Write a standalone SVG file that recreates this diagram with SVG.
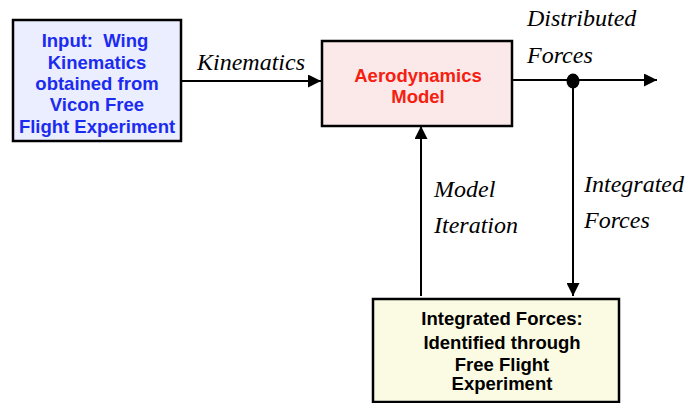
<svg xmlns="http://www.w3.org/2000/svg" width="689" height="403" viewBox="0 0 689 403">
<defs>
<style>
.box{stroke:#000;stroke-width:2.5}
.bt{font-family:"Liberation Sans",Arial,sans-serif;font-weight:bold;font-size:18.5px;text-anchor:middle}
.lbl{font-family:"Liberation Serif","Times New Roman",serif;font-style:italic;font-size:24px;fill:#000}
.ln{stroke:#000;stroke-width:2;fill:none}
</style>
<marker id="ah" viewBox="0 0 10 10" refX="10" refY="5" markerWidth="6.5" markerHeight="6.5" orient="auto" markerUnits="strokeWidth">
<path d="M0,0 L10,5 L0,10 Z" fill="#000"/>
</marker>
</defs>
<rect width="689" height="403" fill="#fff"/>
<g id="connectors">
<line class="ln" x1="181" y1="81" x2="321" y2="81" marker-end="url(#ah)"/>
<line class="ln" x1="512" y1="80" x2="657" y2="80" marker-end="url(#ah)"/>
<line class="ln" x1="573" y1="80" x2="573" y2="296" marker-end="url(#ah)"/>
<line class="ln" x1="421" y1="296" x2="421" y2="126" marker-end="url(#ah)"/>
<ellipse cx="573" cy="81" rx="6.5" ry="7.5" fill="#000"/>
<text class="lbl" x="197" y="70">Kinematics</text>
<text class="lbl" x="527" y="26">Distributed</text>
<text class="lbl" x="527" y="63">Forces</text>
<text class="lbl" x="434" y="197">Model</text>
<text class="lbl" x="434" y="233">Iteration</text>
<text class="lbl" x="584" y="192">Integrated</text>
<text class="lbl" x="584" y="228">Forces</text>
</g>
<g id="input">
<rect class="box" x="13" y="20" width="168" height="121" fill="#ebeeff"/>
<text class="bt" fill="#1c2bf0" x="95" y="47">Input:&#160; Wing</text>
<text class="bt" fill="#1c2bf0" x="97" y="68.5">Kinematics</text>
<text class="bt" fill="#1c2bf0" x="97" y="90">obtained from</text>
<text class="bt" fill="#1c2bf0" x="97" y="111">Vicon Free</text>
<text class="bt" fill="#1c2bf0" x="97" y="132.5">Flight Experiment</text>
</g>
<g id="aero">
<rect class="box" x="322" y="41" width="190" height="85" fill="#fbe9ea"/>
<text class="bt" fill="#f5200f" x="418" y="82">Aerodynamics</text>
<text class="bt" fill="#f5200f" x="418" y="103">Model</text>
</g>
<g id="integrated">
<rect class="box" x="373" y="299" width="246" height="103" fill="#fbfbe3"/>
<text class="bt" fill="#000" x="502" y="325">Integrated Forces:</text>
<text class="bt" fill="#000" x="502" y="349">Identified through</text>
<text class="bt" fill="#000" x="502" y="371">Free Flight</text>
<text class="bt" fill="#000" x="502" y="390">Experiment</text>
</g>
</svg>
